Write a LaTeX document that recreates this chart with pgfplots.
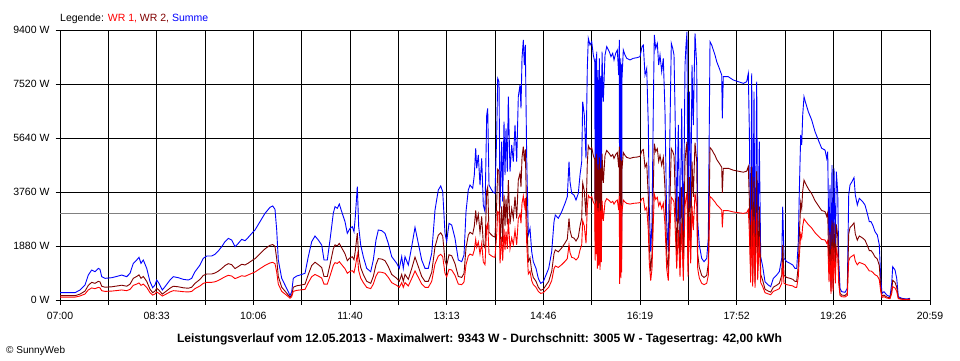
\documentclass[border=0pt]{standalone}
\usepackage{fontspec}
\setmainfont{Liberation Sans}
\usepackage{pgfplots}
\usepackage{pgfplotstable}
\pgfplotsset{compat=1.18}
\definecolor{cSum}{RGB}{0,0,255}
\definecolor{cWRz}{RGB}{128,0,0}
\definecolor{cWRe}{RGB}{255,0,0}
\definecolor{cAvg}{RGB}{128,128,128}
% x = position along the day axis (0 = 07:00, 870 = 20:59), S = Summe, A = WR 2, B = WR 1 (W)
\pgfplotstableread{
x S A B
0 255 150 100
15 255 150 100
20 348 205 140
25 522 310 210
28.3 870 510 350
31.7 1044 615 420
35 986 580 395
38.3 1102 650 440
40 1067 630 425
41.7 812 480 325
45 754 445 300
51.7 777 460 310
58.3 835 495 335
61.7 870 515 350
66.7 812 480 325
70 928 550 370
73.3 1276 755 510
76.7 1393 820 555
79 1486 875 595
81 1276 755 510
83.3 1393 820 555
86.7 1102 650 440
90 638 375 255
92.7 429 255 170
95 522 310 210
96.7 696 410 280
99 580 340 230
102.3 348 205 140
105 464 275 185
110 696 410 280
113.3 812 480 325
118.3 777 460 310
123.3 719 425 290
128.3 696 410 280
131.7 754 445 300
135 986 580 395
140 1219 720 490
143.3 1450 855 580
146.7 1532 905 615
151.7 1532 905 615
155 1590 940 635
158.3 1706 1005 680
161.7 1857 1095 745
165 2031 1200 810
168.3 2147 1265 860
171.7 2089 1230 835
175 1857 1095 745
178.3 1973 1165 790
181.7 2112 1245 845
185 2065 1220 825
188.3 2182 1285 875
193.3 2379 1405 950
195 2437 1440 975
200 2727 1610 1090
205 3017 1780 1205
210 3226 1905 1290
212.7 3273 1930 1310
215 3157 1865 1265
216.7 2437 1440 975
218.3 1393 820 555
221.7 754 445 300
225 522 310 210
228.3 290 170 115
230 151 100 60
231.7 290 170 115
233.3 754 445 300
236.7 835 495 335
240 870 515 350
245 928 550 370
248.3 1509 890 605
251.7 2031 1200 810
255 2228 1315 890
258.3 2089 1230 835
261.7 1915 1130 765
264 1393 820 555
267.3 1393 820 555
270 2089 1230 835
273.3 3017 1780 1205
275 3250 1920 1300
277.3 3192 1885 1275
279.3 3342 1970 1335
281.7 3075 1815 1230
285 2727 1610 1090
287.3 2321 1370 930
290 2495 1470 1000
292.3 2553 1505 1020
294 2379 1405 950
295.3 2901 1710 1160
297.3 3946 2330 1580
298.7 2553 1505 1020
300.7 1915 1130 765
303.3 1509 890 605
306.7 1102 650 440
310.7 986 580 395
313.3 1393 820 555
316 2089 1230 835
318.3 2437 1440 975
321.7 2414 1425 965
325 2321 1370 930
328.3 1973 1165 790
331.7 1509 890 605
336.7 1276 755 510
339.3 1102 650 440
341.7 1509 890 605
343.3 1102 650 440
345 1509 890 605
348.3 1219 720 490
351.7 1857 1095 745
355 2530 1495 1010
358.3 1973 1165 790
361.7 1393 820 555
365 1102 650 440
368.3 1102 650 440
371.7 1625 960 650
375 3133 1850 1255
378.3 3830 2260 1530
380.7 3969 2340 1590
382.7 3772 2225 1510
385 2321 1370 930
386.7 2031 1200 810
389 2669 1575 1070
391.7 2611 1540 1045
395 2147 1265 860
398.3 1393 820 555
401.7 1334 785 535
404 1567 925 625
406 3075 1815 1230
408.3 3830 2260 1530
410 4004 2360 1600
412.7 3888 2295 1555
414.3 4352 2570 1740
415.7 5280 3115 2110
416.7 4584 2705 1835
418.3 5048 2980 2020
420 4004 2360 1600
421.7 4932 2910 1975
423.3 3307 1950 1325
425 3075 1815 1230
426.7 6441 3800 2575
427.7 6673 3935 2670
429 4004 2360 1600
430.7 3888 2295 1555
432.7 3772 2225 1510
435 3713 2190 1485
436.7 5745 3390 2300
437.7 7717 4555 3085
439 7601 4485 3040
440 3191 1885 1275
441.7 5513 3255 2205
442.7 3423 2020 1370
444 6209 3665 2485
445 4352 2570 1740
446 5977 3525 2390
447.3 4468 2635 1785
448.3 7079 4175 2830
450 4468 2635 1785
451.7 5396 3185 2160
453.3 4816 2840 1925
455 6093 3595 2435
456.7 4816 2840 1925
458.3 7079 4175 2830
460 7485 4415 2995
461 6673 3935 2670
462 8414 4965 3365
463.3 9052 5340 3620
464.3 8182 4825 3275
465.3 8878 5240 3550
466.7 4932 2910 1975
468.3 2263 1335 905
470 2495 1470 1000
471.7 1683 995 675
473.3 1334 785 535
476 1102 650 440
478.3 754 445 300
480.7 580 340 230
483.3 638 375 255
486 870 515 350
488.7 1102 650 440
491.7 1683 995 675
494 2727 1610 1090
495.3 2959 1745 1185
498.3 2843 1675 1135
501.7 3075 1815 1230
505 3365 1985 1345
507.3 3597 2120 1440
509 4816 2840 1925
510 4120 2430 1650
511.7 3713 2190 1485
514 3655 2155 1460
516 3481 2055 1390
518.3 3713 2190 1485
520 4352 2570 1740
521.7 4816 2840 1925
522.7 6905 4075 2760
524.3 6441 3800 2575
526 4932 2910 1975
527.3 8066 4760 3225
528.3 9110 5375 3645
530 8878 5240 3550
531.7 8994 5305 3600
533.3 8530 5035 3410
534.7 8298 4895 3320
535.2 3423 2020 1370
535.7 8400 4955 3360
536.2 4000 2360 1600
536.7 8646 5100 3460
537.3 2727 1610 1090
538 8000 4720 3200
538.6 3000 1770 1200
539.3 8414 4965 3365
540 2611 1540 1045
540.7 7800 4600 3120
541.3 3300 1945 1320
542 8646 5100 3460
543.3 6905 4075 2760
545 8530 5035 3410
546.7 8820 5205 3530
549.3 8646 5100 3460
551 8472 5000 3390
552.7 8588 5065 3435
554 8356 4930 3340
555.7 8588 5065 3435
557.3 8704 5135 3480
558.7 7833 4620 3135
559.3 9052 5340 3620
559.6 1400 825 560
560 8000 4720 3200
560.3 2031 1200 810
560.7 8414 4965 3365
561 1900 1120 760
561.3 8200 4840 3280
561.6 2400 1415 960
562 7717 4555 3085
563.3 8704 5135 3480
565 8530 5035 3410
566.7 8414 4965 3365
570 8356 4930 3340
573.3 8414 4965 3365
576.7 8434 4975 3375
580 8472 5000 3390
582 8820 5205 3530
583.3 8878 5240 3550
585 7833 4620 3135
586.7 8066 4760 3225
588.3 6093 3595 2435
589.3 3191 1885 1275
590.7 1683 995 675
592 2727 1610 1090
593.3 6673 3935 2670
594.3 9226 5445 3690
595.7 8762 5170 3505
597.3 8936 5270 3575
598.7 8182 4825 3275
600 8530 5035 3410
601.7 7949 4690 3180
603.3 8414 4965 3365
605 6557 3870 2625
606.7 2727 1610 1090
608.3 1683 995 675
610 6093 3595 2435
611.3 8936 5270 3575
612.7 8762 5170 3505
614 8530 5035 3410
615 6673 3935 2670
616.7 2727 1610 1090
618.3 6093 3595 2435
620 2031 1200 810
621.7 6673 3935 2670
623.3 1683 995 675
625 8182 4825 3275
626 8878 5240 3550
627 9342 5510 3735
628 2031 1200 810
629.3 7252 4280 2900
630.7 3191 1885 1275
632 8182 4825 3275
633.3 6093 3595 2435
635 9284 5480 3715
636.7 8182 4825 3275
637.7 2727 1610 1090
639.3 1915 1130 765
641.7 1450 855 580
644 1334 785 535
646.7 1450 855 580
648.3 2147 1265 860
650 8994 5305 3600
651.7 8878 5240 3550
653.3 8704 5135 3480
655 8530 5035 3410
656.7 8298 4895 3320
659.3 8066 4760 3225
661.7 7833 4620 3135
662.3 6325 3730 2530
663.3 7775 4585 3110
668.3 7775 4585 3110
673.3 7659 4520 3065
678.3 7601 4485 3040
683.3 7543 4450 3015
686.7 7601 4485 3040
688.3 7891 4655 3155
689.3 5977 3525 2390
690.7 1509 890 605
691.7 7891 4655 3155
692.7 1161 685 465
694 7252 4280 2900
695 1044 615 420
696.7 7601 4485 3040
697.7 1741 1025 695
699.3 5513 3255 2205
700.7 1509 890 605
702.7 1161 685 465
705 638 375 255
708.3 522 310 210
710.7 464 275 185
713.3 754 445 300
716.7 870 515 350
719.3 986 580 395
721.7 1450 855 580
722.7 3249 1915 1300
724 1450 855 580
726.7 1334 785 535
730 1277 755 510
732.7 1219 720 490
735 1102 650 440
736.7 1102 650 440
738.3 2031 1200 810
739.3 3771 2225 1510
740.7 5745 3390 2300
741.7 5396 3185 2160
742.7 6441 3800 2575
744 7079 4175 2830
745.3 6905 4075 2760
748.3 6557 3870 2625
751.7 6267 3700 2505
755 5861 3460 2345
758.3 5571 3285 2230
761.7 5280 3115 2110
765 5222 3080 2090
766.7 4932 2910 1975
767.7 5164 3045 2065
769 1567 925 625
770 4004 2360 1600
771 522 310 210
772 4700 2775 1880
773 754 445 300
774 4584 2705 1835
775.3 1450 855 580
776.3 4468 2635 1785
777.7 3771 2225 1510
778.7 1450 855 580
780 406 240 160
781.7 290 170 115
785 267 160 105
787.3 406 240 160
788.7 3655 2300 1355
790 4004 2520 1480
792 4120 2595 1525
794 4259 2685 1575
795.3 3655 2300 1355
797.3 3307 2085 1225
799.3 3539 2230 1310
802.7 3423 2155 1265
805 3307 2085 1225
807.7 2959 1865 1095
809.3 2727 1720 1010
811 2727 1720 1010
812.7 2611 1645 965
815 2379 1500 880
817.3 2263 1425 835
819.3 1915 1205 710
820.7 754 445 300
822 232 140 90
824 290 170 115
826.7 174 105 70
830 116 70 45
831.7 580 340 230
832.7 1160 685 465
835 1044 615 420
836.7 754 445 300
838.3 116 70 45
841.7 58 35 25
846.7 35 20 15
850 58 35 25
}\daydata
\begin{document}
\begin{tikzpicture}[x=1pt,y=1pt]
\useasboundingbox (0,0) rectangle (960,360);
\begin{axis}[
  at={(60pt,60pt)}, anchor=south west,
  scale only axis, width=870pt, height=270pt,
  xmin=0, xmax=870, ymin=0, ymax=9400,
  axis line style={black, line width=0.8pt},
  grid=major, major grid style={black, line width=0.8pt},
  tick pos=left, tick align=outside, major tick length=4.5pt,
  tick style={black, line width=0.8pt},
  xtick={0,48.333,96.667,145,193.333,241.667,290,338.333,386.667,435,483.333,531.667,580,628.333,676.667,725,773.333,821.667,870},
  xticklabels={07:00,,08:33,,10:06,,11:40,,13:13,,14:46,,16:19,,17:52,,19:26,,20:59},
  ytick={0,1880,3760,5640,7520,9400},
  yticklabels={0 W,1880 W,3760 W,5640 W,7520 W,9400 W},
  ticklabel style={font=\fontsize{10.5}{12}\selectfont},
  xticklabel style={yshift=-4.5pt},
  yticklabel style={xshift=-2.5pt},
]
\addplot[cAvg, line width=0.8pt] coordinates {(0,3005) (870,3005)};
\addplot[cSum, line width=0.9pt] table[x=x,y=S] {\daydata};
\addplot[cWRz, line width=0.9pt] table[x=x,y=A] {\daydata};
\addplot[cWRe, line width=0.9pt] table[x=x,y=B] {\daydata};
\end{axis}
\node[anchor=base west, font=\fontsize{10.5}{12}\selectfont, inner sep=0pt] at (60,339)
  {Legende: \textcolor{cWRe}{WR 1,} \textcolor{cWRz}{WR 2,} \textcolor{cSum}{Summe}};
\node[anchor=base, font=\bfseries\fontsize{12.1}{14}\selectfont, inner sep=0pt] at (479.5,18)
  {Leistungsverlauf vom 12.05.2013 - Maximalwert: 9343 W - Durchschnitt: 3005 W - Tagesertrag: 42,00 kWh};
\node[anchor=base west, font=\fontsize{10}{12}\selectfont, inner sep=0pt] at (6,7)
  {\textcopyright{} SunnyWeb};
\end{tikzpicture}
\end{document}
